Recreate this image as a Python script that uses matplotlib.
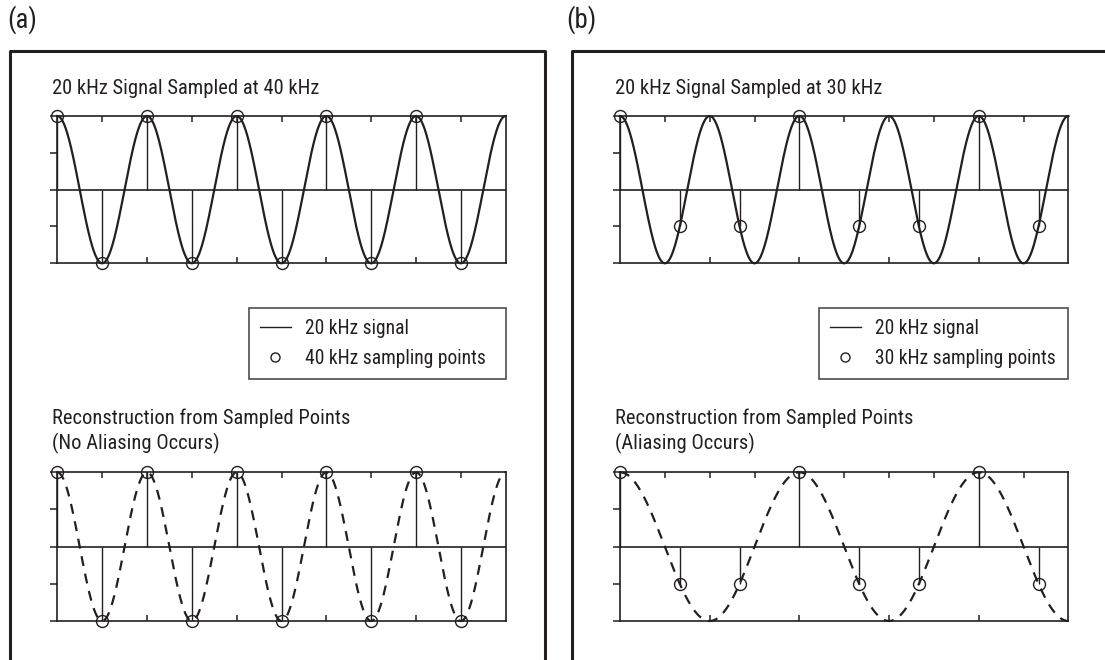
import numpy as np
import matplotlib
matplotlib.use("Agg")
import matplotlib.pyplot as plt
from matplotlib.lines import Line2D
from matplotlib import font_manager

# ---------------- data ----------------
signal_freq_khz = 20.0          # 20 kHz signal
alias_freq_khz = 10.0           # alias seen when sampling at 30 kHz
time_span_ms = 0.25

samples_40k_t = [0.000, 0.025, 0.050, 0.075, 0.100, 0.125, 0.150, 0.175, 0.200, 0.225]
samples_40k_v = [1, -1, 1, -1, 1, -1, 1, -1, 1, -1]

samples_30k_t = [0.0, 1/30, 2/30, 3/30, 4/30, 5/30, 6/30, 7/30]
samples_30k_v = [1, -0.5, -0.5, 1, -0.5, -0.5, 1, -0.5]

panel_labels = ["(a)", "(b)"]
top_titles = ["20 kHz Signal Sampled at 40 kHz", "20 kHz Signal Sampled at 30 kHz"]
bottom_titles = [("Reconstruction from Sampled Points", "(No Aliasing Occurs)"),
                 ("Reconstruction from Sampled Points", "(Aliasing Occurs)")]
legend_labels = [("20 kHz signal", "40 kHz sampling points"),
                 ("20 kHz signal", "30 kHz sampling points")]
y_ticks = [-1, -0.5, 0, 0.5, 1]
x_ticks_bottom = [0.05, 0.10, 0.15, 0.20]
x_ticks_top = [0.025, 0.05, 0.075, 0.10, 0.125, 0.15, 0.175, 0.20, 0.225]

# ---------------- font choice ----------------
entries = font_manager.fontManager.ttflist
names = {f.name for f in entries}
FONT = dict(family=["DejaVu Sans"], stretch="condensed", weight="normal")
for cand in ["Roboto Condensed", "Archivo Narrow", "Liberation Sans Narrow",
             "Asap Condensed", "Barlow Semi Condensed"]:
    if cand in names:
        FONT = dict(family=[cand, "DejaVu Sans"], stretch="normal", weight="normal")
        break
plt.rcParams["font.family"] = FONT["family"]
plt.rcParams["font.stretch"] = FONT["stretch"]
plt.rcParams["font.weight"] = FONT["weight"]
INK = "#231f20"

W, H = 1105, 660
fig = plt.figure(figsize=(W / 100, H / 100), dpi=100)

# size the font so the top title spans the same width as in the reference
probe = fig.text(0, 0, top_titles[0], fontsize=14)
r = fig.canvas.get_renderer()
wpx = probe.get_window_extent(r).width
probe.remove()
FS = 14 * 268.0 / wpx
FSL = FS * 0.95         # legend text
FSP = FS * 1.3          # panel letters are a little larger


def px_axes(x0, y0, x1, y1):
    return fig.add_axes([x0 / W, 1 - y1 / H, (x1 - x0) / W, (y1 - y0) / H])


def style(ax):
    ax.set_xlim(0, time_span_ms)
    ax.set_ylim(-1, 1)
    for s in ax.spines.values():
        s.set_linewidth(1.2)
        s.set_color(INK)
    ax.axhline(0, color=INK, lw=1.2)
    ax.set_yticks(y_ticks)
    ax.tick_params(axis="y", direction="out", length=5.2, width=1.1, color=INK,
                   labelleft=False)
    ax.set_xticks(x_ticks_bottom)
    ax.tick_params(axis="x", direction="in", length=4.3, width=1.1, color=INK,
                   labelbottom=False)
    sec = ax.secondary_xaxis("top")
    sec.set_xticks(x_ticks_top)
    sec.tick_params(direction="in", length=4.3, width=1.1, color=INK, labeltop=False)
    sec.spines["top"].set_visible(False)


def stems(ax, t, v):
    ax.vlines(t, 0, v, color=INK, lw=1.0)
    ax.plot(t, v, ls="none", marker="o", ms=8.6, mfc="none", mec=INK, mew=1.0,
            clip_on=False, zorder=5)


t_fine = np.linspace(0, time_span_ms, 2000)
panels = [
    dict(x0=57.3, samp_t=samples_40k_t, samp_v=samples_40k_v, recon_f=signal_freq_khz),
    dict(x0=620.0, samp_t=samples_30k_t, samp_v=samples_30k_v, recon_f=alias_freq_khz),
]
plot_w = 448.4

for i, p in enumerate(panels):
    x0 = p["x0"]
    x1 = x0 + plot_w
    # top: signal with samples
    ax = px_axes(x0, 116.0, x1, 263.3)
    style(ax)
    ax.plot(t_fine, np.cos(2 * np.pi * signal_freq_khz * t_fine), color=INK, lw=1.6,
            clip_on=False, zorder=4)
    stems(ax, p["samp_t"], p["samp_v"])
    ax.set_zorder(2)

    # bottom: reconstruction
    axb = px_axes(x0, 472.3, x1, 621.0)
    style(axb)
    axb.plot(t_fine, np.cos(2 * np.pi * p["recon_f"] * t_fine), color=INK, lw=1.6,
             ls=(0, (4.5, 3.5)), clip_on=False, zorder=4)
    stems(axb, p["samp_t"], p["samp_v"])

    # titles
    tx = (x0 - 4.8) / W
    fig.text(tx, 1 - 94.5 / H, top_titles[i], fontsize=FS, color=INK,
             ha="left", va="baseline")
    fig.text(tx, 1 - 424 / H, bottom_titles[i][0], fontsize=FS, color=INK,
             ha="left", va="baseline")
    fig.text(tx, 1 - 449 / H, bottom_titles[i][1], fontsize=FS, color=INK,
             ha="left", va="baseline")

    # legend
    handles = [Line2D([], [], color=INK, lw=1.0),
               Line2D([], [], ls="none", marker="o", ms=6.5, mfc="none", mec=INK, mew=1.0)]
    lx0 = 249 if i == 0 else 819
    em = FSL * 100 / 72
    leg = ax.legend(handles, legend_labels[i], loc="upper left",
                    bbox_to_anchor=(lx0 / W, 1 - 374 / H, (x1 - lx0) / W, 66 / H),
                    bbox_transform=fig.transFigure, mode="expand", borderaxespad=0,
                    fontsize=FSL, frameon=True, fancybox=False,
                    handlelength=31 / em, handletextpad=14 / em,
                    borderpad=0.56, labelspacing=0.56, labelcolor=INK)
    leg.get_frame().set_edgecolor(INK)
    leg.get_frame().set_linewidth(1.2)
    leg.get_frame().set_facecolor("white")
    leg.set_zorder(10)

# panel labels
fig.text(7 / W, 1 - 28 / H, panel_labels[0], fontsize=FSP, color=INK, ha="left", va="baseline")
fig.text(566 / W, 1 - 28 / H, panel_labels[1], fontsize=FSP, color=INK, ha="left", va="baseline")

# outer frames (open at the bottom / right edge of the image)
top_y = 1 - 50.7 / H
fig.add_artist(Line2D([9.5 / W, 9.5 / W, 545 / W, 545 / W], [-0.05, top_y, top_y, -0.05],
                      transform=fig.transFigure, color=INK, lw=2.2))
fig.add_artist(Line2D([571.5 / W, 571.5 / W, 1.05], [-0.05, top_y, top_y],
                      transform=fig.transFigure, color=INK, lw=2.2))

fig.savefig("out.png", dpi=100, facecolor="white")
